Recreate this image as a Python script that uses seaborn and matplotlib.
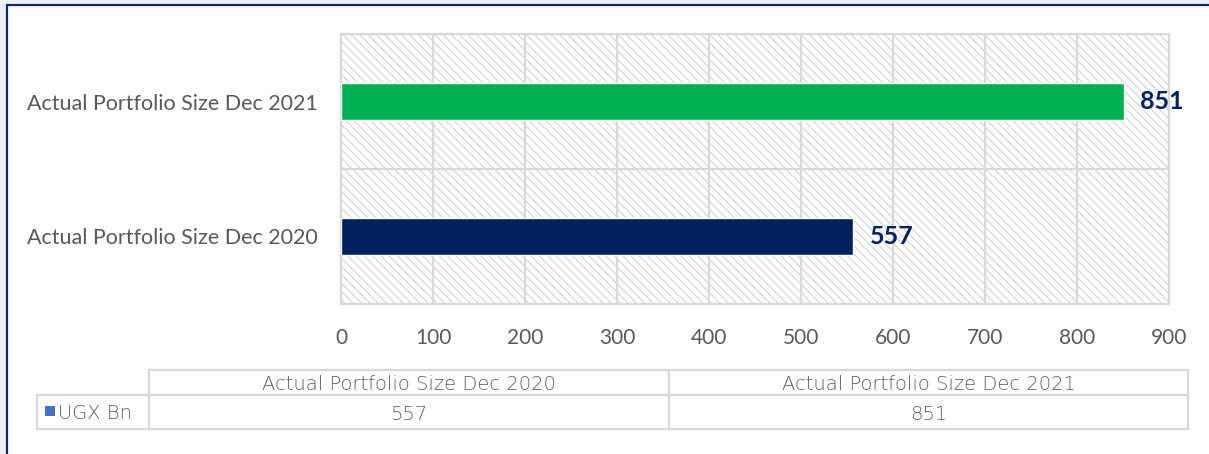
import matplotlib
matplotlib.use("Agg")
import matplotlib.pyplot as plt
import seaborn as sns
import pandas as pd
from matplotlib.patches import Rectangle
from matplotlib.lines import Line2D

categories = ["Actual Portfolio Size Dec 2021", "Actual Portfolio Size Dec 2020"]
values = [851, 557]
bar_colors = ["#00B050", "#002060"]
table_categories = ["Actual Portfolio Size Dec 2020", "Actual Portfolio Size Dec 2021"]
table_values = [557, 851]
series_name = "UGX Bn"
x_ticks = [0, 100, 200, 300, 400, 500, 600, 700, 800, 900]

sns.set_theme(style="white")
plt.rcParams["font.family"] = ["Lato", "DejaVu Sans"]
plt.rcParams["hatch.linewidth"] = 1.0

W, H = 1209, 454
fig = plt.figure(figsize=(W / 100, H / 100), dpi=100)
fig.patch.set_facecolor("white")

def fx(px):
    return px / W

def fy(py):
    return 1 - py / H

# outer frame
fig.patches.append(Rectangle((0, 0), 1, 1, transform=fig.transFigure,
                             facecolor="#EEF2F7", edgecolor="none", zorder=-10))
fig.patches.append(Rectangle((fx(6.5), -0.01), 1.02, fy(4.5) + 0.01, transform=fig.transFigure,
                             facecolor="white", edgecolor="#0F2A6B", linewidth=1.6, zorder=-9))

ax = fig.add_axes([fx(341), fy(304), fx(1169) - fx(341), fy(34) - fy(304)])
df = pd.DataFrame({"cat": categories, "val": values})
sns.barplot(data=df, y="cat", x="val", hue="cat", palette=bar_colors, legend=False,
            width=0.28, ax=ax, zorder=3, saturation=1)

ax.set_xlim(0, 900)
ax.set_ylim(1.5, -0.5)
ax.set_xticks(x_ticks)
ax.set_xticklabels([str(t) for t in x_ticks], fontsize=15, color="#595959")
ax.tick_params(axis="x", length=0, pad=17)
ax.tick_params(axis="y", length=0, pad=17)
for lbl in ax.get_yticklabels():
    lbl.set_fontsize(15.5)
    lbl.set_color("#595959")
ax.set_xlabel("")
ax.set_ylabel("")

# hatched background
ax.add_patch(Rectangle((0, 0), 1, 1, transform=ax.transAxes, facecolor="white",
                       edgecolor="#DADADA", hatch="\\\\\\\\", linewidth=0, zorder=0))
for t in x_ticks:
    ax.axvline(t, color="#D9D9D9", linewidth=1.6, zorder=1)
ax.axhline(0.5, color="#D9D9D9", linewidth=1.6, zorder=1)
for s in ax.spines.values():
    s.set_visible(True)
    s.set_color("#D9D9D9")
    s.set_linewidth(1.6)

for i, v in enumerate(values):
    ax.text(v + 18, i, f"{v}", va="center", ha="left", fontsize=18, fontweight="bold",
            color="#002060", zorder=4)

# data table
lc = "#D9D9D9"
lw = 1.6
col_x = [149, 669, 1188]
left_x = 37
y_top, y_mid, y_bot = 370, 395, 429
def hline(x0, x1, y):
    fig.add_artist(Line2D([fx(x0), fx(x1)], [fy(y), fy(y)], color=lc, linewidth=lw))
def vline(x, y0, y1):
    fig.add_artist(Line2D([fx(x), fx(x)], [fy(y0), fy(y1)], color=lc, linewidth=lw))
hline(col_x[0], col_x[2], y_top)
hline(left_x, col_x[2], y_mid)
hline(left_x, col_x[2], y_bot)
vline(left_x, y_mid, y_bot)
for x in col_x:
    vline(x, y_top, y_bot)
tfont = ["DejaVu Sans"]
for i, (c, v) in enumerate(zip(table_categories, table_values)):
    cx = (col_x[i] + col_x[i + 1]) / 2
    fig.text(fx(cx), fy((y_top + y_mid) / 2 + 1.5), c, ha="center", va="center",
             fontsize=14, color="#5F5F5F", family=tfont, fontweight="light")
    fig.text(fx(cx), fy((y_mid + y_bot) / 2 + 2), str(v), ha="center", va="center",
             fontsize=14, color="#5F5F5F", family=tfont, fontweight="light")
fig.patches.append(Rectangle((fx(45), fy(416)), fx(10), fy(406) - fy(416),
                             transform=fig.transFigure, facecolor="#4472C4", edgecolor="none"))
fig.text(fx(58), fy((y_mid + y_bot) / 2 + 1.5), series_name, ha="left", va="center",
         fontsize=14, color="#5F5F5F", family=tfont, fontweight="light")

fig.savefig("out.png", dpi=100)
